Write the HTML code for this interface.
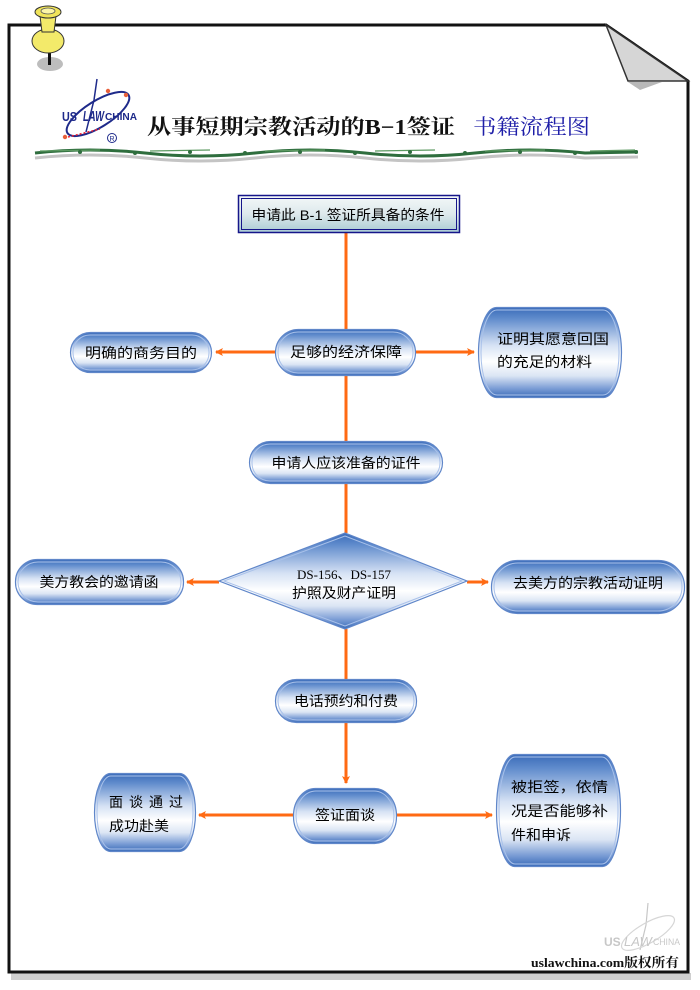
<!DOCTYPE html>
<html><head><meta charset="utf-8"><style>
html,body{margin:0;padding:0;background:#fff;}
svg{display:block;}
text{font-family:"Liberation Sans","Noto Sans CJK SC",sans-serif;}
.t{font-size:14px;fill:#000;}
</style></head><body>
<svg width="700" height="990" viewBox="0 0 700 990" xmlns="http://www.w3.org/2000/svg">
<defs>
<linearGradient id="g" x1="0" y1="0" x2="0" y2="1">
<stop offset="0" stop-color="#3a6bb8"/>
<stop offset="0.12" stop-color="#5f8bcc"/>
<stop offset="0.42" stop-color="#d6e2f4"/>
<stop offset="0.6" stop-color="#ffffff"/>
<stop offset="0.76" stop-color="#dbe5f4"/>
<stop offset="0.9" stop-color="#7b9dd5"/>
<stop offset="1" stop-color="#3a6bb8"/>
</linearGradient>
<linearGradient id="tb" x1="0" y1="0" x2="0" y2="1">
<stop offset="0" stop-color="#f4f8f8"/>
<stop offset="0.5" stop-color="#dde9ec"/>
<stop offset="1" stop-color="#a9cbd3"/>
</linearGradient>
<marker id="ah" markerWidth="8" markerHeight="8" refX="7" refY="4" orient="auto" markerUnits="userSpaceOnUse">
<path d="M0,0 L8,4 L0,8 L2,4 Z" fill="#ff6a13"/>
</marker>
</defs>

<!-- frame shadow -->
<rect x="11" y="973" width="680" height="7" fill="#cfcfcf"/>
<!-- frame -->
<path d="M9,25 L606,25 L688,81 L688,972 L9,972 Z" fill="#fff" stroke="#111" stroke-width="3"/>
<!-- fold -->
<path d="M628,82 L662,82 L640,90 Z" fill="#b8b8b8"/>
<path d="M606,25 L628,81 L688,81 Z" fill="#d6d6d6" stroke="#333" stroke-width="1.5"/>

<!-- pushpin -->
<ellipse cx="50" cy="64" rx="13" ry="7" fill="#bdbdbd"/>
<rect x="48" y="48" width="3" height="17" fill="#111"/>
<ellipse cx="48" cy="41" rx="16" ry="12" fill="#f3ea6a" stroke="#333" stroke-width="1"/>
<path d="M40,16 L56,16 L54,32 L42,32 Z" fill="#f3ea6a" stroke="#333" stroke-width="1"/>
<ellipse cx="48" cy="12" rx="13" ry="6" fill="#f0e45a" stroke="#333" stroke-width="1"/>
<ellipse cx="48" cy="11" rx="7" ry="3" fill="#fbf5a8" stroke="#555" stroke-width="0.8"/>

<!-- logo -->
<path d="M97,79 L94,100 L86,132" stroke="#1e2a8a" stroke-width="1.5" fill="none"/>
<ellipse cx="98" cy="114" rx="36" ry="13" transform="rotate(-32 98 114)" fill="none" stroke="#1e2a8a" stroke-width="2"/>
<circle cx="108" cy="91" r="2.2" fill="#e8603a"/>
<circle cx="126" cy="95" r="2.2" fill="#e8603a"/>
<circle cx="65" cy="137" r="2.2" fill="#e8603a"/>
<path d="M68,137 L100,129" stroke="#e23" stroke-width="1.5" stroke-dasharray="2,2"/>
<text x="62" y="121" textLength="15" lengthAdjust="spacingAndGlyphs" style="font-size:13px;font-weight:bold;fill:#1e2a8a">US</text>
<text x="83" y="121" textLength="21" lengthAdjust="spacingAndGlyphs" style="font-size:15px;font-weight:bold;font-style:italic;fill:#1e2a8a">LAW</text>
<text x="105" y="120" textLength="32" lengthAdjust="spacingAndGlyphs" style="font-size:10px;font-weight:bold;fill:#1e2a8a">CHINA</text>
<circle cx="112" cy="138" r="4.5" fill="#fff" stroke="#1e2a8a" stroke-width="1"/>
<text x="112" y="141" text-anchor="middle" style="font-size:7px;fill:#1e2a8a">R</text>

<!-- title -->
<text x="147" y="134" textLength="308" lengthAdjust="spacingAndGlyphs" style="font-family:'Liberation Serif','Noto Serif CJK SC',serif;font-size:21px;font-weight:bold;fill:#111">从事短期宗教活动的B−1签证</text>
<text x="473" y="134" textLength="117" lengthAdjust="spacingAndGlyphs" style="font-family:'Liberation Serif','Noto Serif CJK SC',serif;font-size:21px;fill:#1e1ea8">书籍流程图</text>

<!-- green decorative line -->
<g>
<path d="M35,158 Q90,152 145,158 T255,158 T365,158 T475,158 T585,158 L638,157" stroke="#c4c4c4" stroke-width="3" fill="none"/>
<path d="M35,153 Q90,147 145,153 T255,153 T365,153 T475,153 T585,153 L638,152" stroke="#2f6e3e" stroke-width="3" fill="none"/>
<path d="M40,151 L100,150 M150,151 L210,150 M265,151 L325,150 M375,151 L435,150 M485,151 L545,150 M590,151 L635,150" stroke="#5d9a62" stroke-width="1.2" fill="none"/>
<g fill="#2f6e3e">
<circle cx="80" cy="152" r="2"/><circle cx="135" cy="153" r="2"/><circle cx="190" cy="152" r="2"/>
<circle cx="245" cy="153" r="2"/><circle cx="300" cy="152" r="2"/><circle cx="355" cy="153" r="2"/>
<circle cx="410" cy="152" r="2"/><circle cx="465" cy="153" r="2"/><circle cx="520" cy="152" r="2"/>
<circle cx="575" cy="153" r="2"/><circle cx="636" cy="152" r="2"/>
</g>
</g>

<!-- connectors -->
<g stroke="#ff6a13" stroke-width="3" fill="none">
<line x1="346" y1="233" x2="346" y2="329"/>
<line x1="275" y1="352" x2="216" y2="352" marker-end="url(#ah)"/>
<line x1="416" y1="352" x2="474" y2="352" marker-end="url(#ah)"/>
<line x1="346" y1="376" x2="346" y2="441"/>
<line x1="346" y1="483" x2="346" y2="533"/>
<line x1="219" y1="582" x2="187" y2="582" marker-end="url(#ah)"/>
<line x1="467" y1="582" x2="488" y2="582" marker-end="url(#ah)"/>
<line x1="346" y1="629" x2="346" y2="679"/>
<line x1="346" y1="722" x2="346" y2="783" marker-end="url(#ah)"/>
<line x1="293" y1="815" x2="199" y2="815" marker-end="url(#ah)"/>
<line x1="397" y1="815" x2="492" y2="815" marker-end="url(#ah)"/>
</g>

<!-- top box -->
<rect x="238.5" y="195.5" width="221" height="37" fill="url(#tb)" stroke="#16168a" stroke-width="1.5"/>
<rect x="241.5" y="198.5" width="215" height="31" fill="none" stroke="#16168a" stroke-width="1"/>
<text x="348" y="220" text-anchor="middle" class="t" textLength="193" lengthAdjust="spacingAndGlyphs">申请此 B-1 签证所具备的条件</text>

<!-- nodes -->
<g stroke="#5f86c9" stroke-width="1.2" fill="url(#g)">
<rect x="275.5" y="329.5" width="140" height="46" rx="23" ry="23"/>
<rect x="70.5" y="332.5" width="141" height="40" rx="20" ry="20"/>
<rect x="478.5" y="307.5" width="143" height="90" rx="18" ry="45"/>
<rect x="249.5" y="441.5" width="193" height="42" rx="21" ry="21"/>
<polygon points="219,581 345,533 467,581 345,629"/>
<rect x="15.5" y="559.5" width="168" height="45" rx="22" ry="22"/>
<rect x="491.5" y="560.5" width="193" height="53" rx="26" ry="26"/>
<rect x="275.5" y="679.5" width="141" height="43" rx="21" ry="21"/>
<rect x="293.5" y="788.5" width="103" height="55" rx="22" ry="27"/>
<rect x="94.5" y="773.5" width="101" height="78" rx="16" ry="39"/>
<rect x="496.5" y="754.5" width="124" height="112" rx="18" ry="56"/>
</g>
<g stroke="#a9c1ea" stroke-width="1" fill="none">
<rect x="278" y="332" width="135" height="41" rx="20" ry="20"/>
<rect x="73" y="335" width="136" height="35" rx="17" ry="17"/>
<rect x="481" y="310" width="138" height="85" rx="16" ry="42"/>
<rect x="252" y="444" width="188" height="37" rx="18" ry="18"/>
<polygon points="224,581 345,536 462,581 345,626"/>
<rect x="18" y="562" width="163" height="40" rx="20" ry="20"/>
<rect x="494" y="563" width="188" height="48" rx="24" ry="24"/>
<rect x="278" y="682" width="136" height="38" rx="19" ry="19"/>
<rect x="296" y="791" width="98" height="50" rx="20" ry="25"/>
<rect x="97" y="776" width="96" height="73" rx="14" ry="36"/>
<rect x="499" y="757" width="119" height="107" rx="16" ry="53"/>
</g>

<!-- labels -->
<text x="346" y="357" text-anchor="middle" class="t" textLength="112" lengthAdjust="spacingAndGlyphs">足够的经济保障</text>
<text x="141" y="358" text-anchor="middle" class="t" textLength="112" lengthAdjust="spacingAndGlyphs">明确的商务目的</text>
<text x="497" y="344" class="t" textLength="112" lengthAdjust="spacingAndGlyphs">证明其愿意回国</text>
<text x="497" y="367" class="t" textLength="95" lengthAdjust="spacingAndGlyphs">的充足的材料</text>
<text x="346" y="468" text-anchor="middle" class="t" textLength="149" lengthAdjust="spacingAndGlyphs">申请人应该准备的证件</text>
<text x="344" y="579" text-anchor="middle" style="font-family:'Liberation Serif','Noto Sans CJK SC',serif;font-size:13px;fill:#000">DS-156、DS-157</text>
<text x="344" y="598" text-anchor="middle" class="t" textLength="104" lengthAdjust="spacingAndGlyphs">护照及财产证明</text>
<text x="99" y="587" text-anchor="middle" class="t" textLength="119" lengthAdjust="spacingAndGlyphs">美方教会的邀请函</text>
<text x="588" y="588" text-anchor="middle" class="t" textLength="150" lengthAdjust="spacingAndGlyphs">去美方的宗教活动证明</text>
<text x="346" y="706" text-anchor="middle" class="t" textLength="104" lengthAdjust="spacingAndGlyphs">电话预约和付费</text>
<text x="345" y="820" text-anchor="middle" class="t" textLength="60" lengthAdjust="spacingAndGlyphs">签证面谈</text>
<text x="109" y="807" class="t" textLength="74" lengthAdjust="spacing">面 谈 通 过</text>
<text x="109" y="831" class="t" textLength="60" lengthAdjust="spacingAndGlyphs">成功赴美</text>
<text x="511" y="792" class="t" textLength="97" lengthAdjust="spacingAndGlyphs">被拒签，依情</text>
<text x="511" y="816" class="t" textLength="97" lengthAdjust="spacingAndGlyphs">况是否能够补</text>
<text x="511" y="840" class="t" textLength="60" lengthAdjust="spacingAndGlyphs">件和申诉</text>

<!-- watermark -->
<g opacity="0.55">
<path d="M648,903 L646,925 L640,950" stroke="#9a9a9a" stroke-width="1.2" fill="none"/>
<ellipse cx="648" cy="933" rx="30" ry="10" transform="rotate(-30 648 933)" fill="none" stroke="#b5b5b5" stroke-width="1.2"/>
<text x="604" y="946" style="font-size:12px;font-weight:bold;fill:#9a9a9a">US</text>
<text x="624" y="946" style="font-size:13px;font-style:italic;fill:#9a9a9a">LAW</text>
<text x="653" y="945" textLength="27" lengthAdjust="spacingAndGlyphs" style="font-size:9px;fill:#9a9a9a">CHINA</text>
</g>
<text x="531" y="967" textLength="148" lengthAdjust="spacingAndGlyphs" style="font-family:'Liberation Serif','Noto Serif CJK SC',serif;font-size:13px;font-weight:bold;fill:#111">uslawchina.com版权所有</text>
</svg>
</body></html>
